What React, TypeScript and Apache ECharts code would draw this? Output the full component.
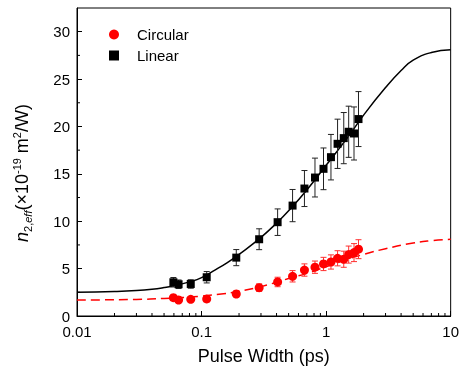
import React, { useEffect, useRef } from "react";
import * as echarts from "echarts";

// Pulse widths (ps), shared by both data sets
const pulseWidths = [0.0594, 0.0654, 0.0819, 0.110, 0.190, 0.290, 0.408, 0.538, 0.670, 0.814, 0.953, 1.094, 1.236, 1.386, 1.518, 1.675, 1.82];
const linearValues = [3.56, 3.35, 3.38, 4.09, 6.16, 8.10, 9.90, 11.65, 13.45, 14.61, 15.53, 16.76, 18.17, 18.77, 19.44, 19.26, 20.78];
const linearErrors = [0.5, 0.45, 0.45, 0.6, 0.85, 1.1, 1.4, 1.7, 1.9, 2.05, 2.2, 2.4, 2.6, 2.7, 2.7, 2.8, 2.9];
const circularValues = [1.93, 1.69, 1.76, 1.80, 2.32, 2.99, 3.59, 4.19, 4.85, 5.15, 5.49, 5.70, 6.09, 5.99, 6.48, 6.69, 7.05];
const circularErrors = [0.25, 0.25, 0.25, 0.3, 0.3, 0.4, 0.5, 0.6, 0.65, 0.65, 0.7, 0.75, 0.8, 0.85, 0.9, 0.95, 1.0];

// Fit curves
const linearFitX = [0.01, 0.02, 0.03, 0.04, 0.05, 0.06, 0.08, 0.1, 0.13, 0.16, 0.2, 0.3, 0.4, 0.5, 0.7, 1, 1.5, 2, 3, 4, 5, 7, 10];
const linearFitY = [2.5, 2.58, 2.68, 2.82, 3.0, 3.2, 3.6, 4.05, 4.9, 5.6, 6.5, 8.3, 9.8, 11.1, 13.3, 15.9, 18.9, 21.2, 24.1, 25.9, 27.0, 27.8, 28.1];
const circularFitX = [0.01, 0.03, 0.05, 0.07, 0.1, 0.15, 0.2, 0.3, 0.5, 0.7, 1, 1.5, 2, 3, 5, 7, 10];
const circularFitY = [1.68, 1.75, 1.85, 1.95, 2.1, 2.35, 2.6, 3.1, 3.95, 4.5, 5.2, 6.0, 6.5, 7.1, 7.7, 7.95, 8.1];

// Ticks
const xMinorTicks = [0.02, 0.03, 0.04, 0.05, 0.06, 0.07, 0.08, 0.09, 0.2, 0.3, 0.4, 0.5, 0.6, 0.7, 0.8, 0.9, 2, 3, 4, 5, 6, 7, 8, 9];
const yMinorTicks = [2.5, 7.5, 12.5, 17.5, 22.5, 27.5];

const FONT = "'Liberation Sans', Arial, sans-serif";

export default function App() {
  const ref = useRef<HTMLDivElement>(null);
  useEffect(() => {
    if (!ref.current) return;
    const chart = echarts.init(ref.current, undefined, { renderer: "svg" });

    const errorSeries = (name: string, vals: number[], errs: number[], color: string) => ({
      type: "custom",
      name: name + "-err",
      z: 3,
      data: pulseWidths.map((x, i) => [x, vals[i] - errs[i], vals[i] + errs[i]]),
      encode: { x: 0, y: [1, 2] },
      renderItem: (params: any, api: any) => {
        const x = api.value(0);
        const p1 = api.coord([x, api.value(2)]);
        const p2 = api.coord([x, api.value(1)]);
        const w = 3;
        const style = { stroke: color, lineWidth: 1 };
        return {
          type: "group",
          children: [
            { type: "line", shape: { x1: p1[0], y1: p1[1], x2: p2[0], y2: p2[1] }, style },
            { type: "line", shape: { x1: p1[0] - w, y1: p1[1], x2: p1[0] + w, y2: p1[1] }, style },
            { type: "line", shape: { x1: p2[0] - w, y1: p2[1], x2: p2[0] + w, y2: p2[1] }, style },
          ],
        };
      },
    });

    const tickSeries = (data: number[][], dir: "x" | "y") => ({
      type: "custom",
      z: 10,
      silent: true,
      clip: false,
      data,
      renderItem: (params: any, api: any) => {
        const p = api.coord([api.value(0), api.value(1)]);
        const len = 3;
        const shape = dir === "x"
          ? { x1: p[0], y1: p[1], x2: p[0], y2: p[1] - len }
          : { x1: p[0], y1: p[1], x2: p[0] + len, y2: p[1] };
        return { type: "line", shape, style: { stroke: "#000", lineWidth: 1 } };
      },
    });

    chart.setOption({
      animation: false,
      textStyle: { fontFamily: FONT },
      grid: { left: 77, right: 5, top: 8, bottom: 55, show: true, borderColor: "#000", borderWidth: 1 },
      legend: {
        orient: "vertical",
        left: 104,
        top: 22,
        itemGap: 6,
        itemWidth: 10,
        itemHeight: 10,
        data: [
          { name: "Circular", icon: "circle" },
          { name: "Linear", icon: "rect" },
        ],
        textStyle: { fontSize: 15, color: "#000", fontFamily: FONT, padding: [0, 0, 0, 13] },
      },
      xAxis: {
        type: "log",
        logBase: 10,
        min: 0.01,
        max: 10,
        name: "Pulse Width (ps)",
        nameLocation: "middle",
        nameGap: 31,
        nameTextStyle: { fontSize: 18, color: "#000", fontFamily: FONT },
        axisLine: { lineStyle: { color: "#000", width: 1 } },
        axisTick: { inside: true, length: 5, lineStyle: { color: "#000" } },
        axisLabel: { fontSize: 15, color: "#000", margin: 8, fontFamily: FONT },
        splitLine: { show: false },
        minorTick: { show: false },
      },
      yAxis: {
        type: "value",
        min: 0,
        max: 32.5,
        interval: 5,
        axisLine: { show: true, lineStyle: { color: "#000", width: 1 } },
        axisTick: { inside: true, length: 5, lineStyle: { color: "#000" } },
        axisLabel: { fontSize: 15, color: "#000", margin: 7, showMaxLabel: false, fontFamily: FONT },
        splitLine: { show: false },
      },
      graphic: [
        {
          type: "text",
          x: 22,
          y: 173,
          rotation: Math.PI / 2,
          style: {
            text: "{n|n}{sub|2,}{subi|eff}{t|(×10}{sup|-19}{t| m}{sup|2}{t|/W)}",
            align: "center",
            verticalAlign: "middle",
            fontFamily: FONT,
            fill: "#000",
            rich: {
              n: { fontSize: 18, fontStyle: "italic", lineHeight: 22, fontFamily: FONT },
              t: { fontSize: 18, lineHeight: 22, fontFamily: FONT },
              sub: { fontSize: 11, lineHeight: 11, verticalAlign: "bottom", fontFamily: FONT },
              subi: { fontSize: 11, lineHeight: 11, verticalAlign: "bottom", fontStyle: "italic", fontFamily: FONT },
              sup: { fontSize: 11, lineHeight: 11, verticalAlign: "top", fontFamily: FONT },
            },
          },
        },
      ],
      series: [
        {
          type: "line",
          name: "linear-fit",
          data: linearFitX.map((x, i) => [x, linearFitY[i]]),
          smooth: true,
          showSymbol: false,
          symbol: "none",
          lineStyle: { color: "#000", width: 1.5 },
          z: 2,
          silent: true,
        },
        {
          type: "line",
          name: "circular-fit",
          data: circularFitX.map((x, i) => [x, circularFitY[i]]),
          smooth: true,
          showSymbol: false,
          symbol: "none",
          lineStyle: { color: "#ff0000", width: 1.5, type: [9, 5] },
          z: 2,
          silent: true,
        },
        errorSeries("Linear", linearValues, linearErrors, "#222"),
        errorSeries("Circular", circularValues, circularErrors, "#ff3030"),
        {
          type: "scatter",
          name: "Circular",
          data: pulseWidths.map((x, i) => [x, circularValues[i]]),
          symbol: "circle",
          symbolSize: 9,
          itemStyle: { color: "#ff0000", opacity: 1 },
          z: 5,
        },
        {
          type: "scatter",
          name: "Linear",
          data: pulseWidths.map((x, i) => [x, linearValues[i]]),
          symbol: "rect",
          symbolSize: 8,
          itemStyle: { color: "#000", opacity: 1 },
          z: 5,
        },
        tickSeries(xMinorTicks.map((v) => [v, 0]), "x"),
        tickSeries(yMinorTicks.map((v) => [0.01, v]), "y"),
      ],
    });
    return () => chart.dispose();
  }, []);
  return <div ref={ref} style={{ position: "fixed", left: 0, top: 0, width: 462, height: 371 }} />;
}
